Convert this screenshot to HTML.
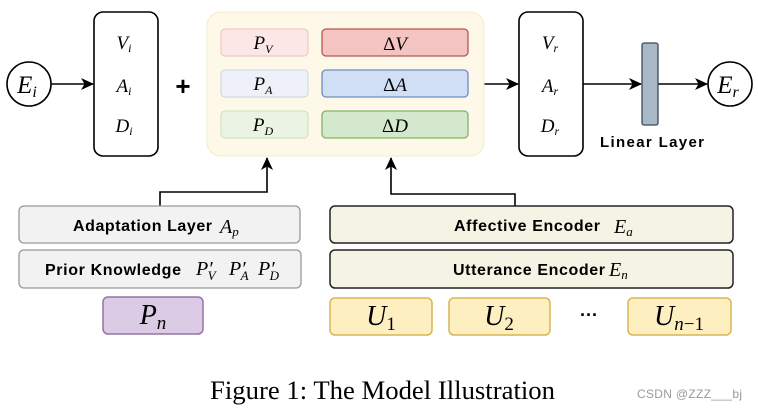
<!DOCTYPE html>
<html><head><meta charset="utf-8"><style>
html,body{margin:0;padding:0;background:#fff;}
svg{display:block;}
.m{font-family:"Liberation Serif",serif;font-style:italic;}
.b{font-family:"Liberation Sans",sans-serif;font-weight:bold;}
</style></head><body>
<svg width="758" height="410" viewBox="0 0 758 410" xmlns="http://www.w3.org/2000/svg">
<defs><marker id="ah" markerWidth="13" markerHeight="12" refX="12" refY="6" orient="auto" markerUnits="userSpaceOnUse"><path d="M0,0 L13,6 L0,12 L3.5,6 Z" fill="#000"/></marker></defs>
<g stroke="#000" stroke-width="1.6" fill="none">
<circle cx="29" cy="84" r="22"/>
<line x1="51" y1="84" x2="93" y2="84" marker-end="url(#ah)"/>
<rect x="94" y="12" width="64" height="144" rx="9"/>
<line x1="484" y1="84" x2="518" y2="84" marker-end="url(#ah)"/>
<rect x="519" y="12" width="64" height="144" rx="9"/>
<line x1="583" y1="84" x2="641" y2="84" marker-end="url(#ah)"/>
<line x1="658" y1="84" x2="707" y2="84" marker-end="url(#ah)"/>
<circle cx="730" cy="84" r="22"/>
<polyline points="160,206 160,192 267,192 267,158" marker-end="url(#ah)"/>
<polyline points="515,206 515,194 391,194 391,158" marker-end="url(#ah)"/>
</g>
<rect x="207" y="12" width="277" height="144" rx="14" fill="#fdf8e8" stroke="#f5ecc8" stroke-width="1"/>
<rect x="221" y="29" width="87" height="27" rx="4" fill="#fbe7e5" stroke="#ecc0bb"/>
<rect x="221" y="70" width="87" height="27" rx="4" fill="#eef2f8" stroke="#c8d4e6"/>
<rect x="221" y="111" width="87" height="27" rx="4" fill="#eaf3e4" stroke="#c8e0bc"/>
<rect x="322" y="29" width="146" height="27" rx="4" fill="#f4c4c3" stroke="#b85450" stroke-width="1.3"/>
<rect x="322" y="70" width="146" height="27" rx="4" fill="#d0def6" stroke="#6c8ebf" stroke-width="1.3"/>
<rect x="322" y="111" width="146" height="27" rx="4" fill="#d3e8cc" stroke="#82b366" stroke-width="1.3"/>
<rect x="642" y="43" width="16" height="82" rx="2" fill="#a9b8c6" stroke="#3a4a5a" stroke-width="1.3"/>
<g class="m" font-size="25" text-anchor="middle">
<text x="27" y="93">E<tspan font-size="16" dy="4">i</tspan></text>
<text x="728" y="93">E<tspan font-size="16" dy="4">r</tspan></text>
</g>
<g class="m" font-size="19" text-anchor="middle">
<text x="124" y="49">V<tspan font-size="12" dy="3">i</tspan></text>
<text x="124" y="92">A<tspan font-size="12" dy="3">i</tspan></text>
<text x="124" y="132">D<tspan font-size="12" dy="3">i</tspan></text>
<text x="550" y="49">V<tspan font-size="12" dy="3">r</tspan></text>
<text x="550" y="92">A<tspan font-size="12" dy="3">r</tspan></text>
<text x="550" y="132">D<tspan font-size="12" dy="3">r</tspan></text>
<text x="263" y="49">P<tspan font-size="12" dy="4">V</tspan></text>
<text x="263" y="90">P<tspan font-size="12" dy="4">A</tspan></text>
<text x="263" y="131">P<tspan font-size="12" dy="4">D</tspan></text>
<text x="395" y="50"><tspan font-style="normal">Δ</tspan>V</text>
<text x="395" y="91"><tspan font-style="normal">Δ</tspan>A</text>
<text x="395" y="132"><tspan font-style="normal">Δ</tspan>D</text>
</g>
<text x="183" y="95" class="b" font-size="26" text-anchor="middle">+</text>
<text x="652" y="147" class="b" font-size="15" text-anchor="middle" textLength="104">Linear Layer</text>
<rect x="19" y="206" width="281" height="37" rx="5" fill="#f2f2f2" stroke="#999" stroke-width="1.3"/>
<rect x="19" y="250" width="282" height="38" rx="5" fill="#f2f2f2" stroke="#999" stroke-width="1.3"/>
<rect x="330" y="206" width="403" height="37" rx="5" fill="#f5f3e3" stroke="#222" stroke-width="1.5"/>
<rect x="330" y="250" width="403" height="38" rx="5" fill="#f5f3e3" stroke="#222" stroke-width="1.5"/>
<rect x="103" y="297" width="100" height="37" rx="5" fill="#dccbe4" stroke="#9673a6" stroke-width="1.5"/>
<rect x="330" y="298" width="102" height="37" rx="5" fill="#fdefbf" stroke="#d6b656" stroke-width="1.5"/>
<rect x="449" y="298" width="101" height="37" rx="5" fill="#fdefbf" stroke="#d6b656" stroke-width="1.5"/>
<rect x="628" y="298" width="103" height="37" rx="5" fill="#fdefbf" stroke="#d6b656" stroke-width="1.5"/>
<g class="b" font-size="16">
<text x="73" y="231" textLength="139">Adaptation Layer</text>
<text x="45" y="275" textLength="136">Prior Knowledge</text>
<text x="454" y="231" textLength="146">Affective Encoder</text>
<text x="453" y="275" textLength="152">Utterance Encoder</text>
<text x="580" y="321" font-size="18">···</text>
</g>
<g class="m" font-size="20">
<text x="220" y="233">A<tspan font-size="13" dy="3">p</tspan></text>
<text x="196" y="275">P′<tspan font-size="13" dy="5" dx="-5">V</tspan></text>
<text x="229" y="275">P′<tspan font-size="13" dy="5" dx="-5">A</tspan></text>
<text x="258" y="275">P′<tspan font-size="13" dy="5" dx="-5">D</tspan></text>
<text x="614" y="233">E<tspan font-size="13" dy="3">a</tspan></text>
<text x="609" y="276">E<tspan font-size="13" dy="3">n</tspan></text>
</g>
<g class="m" font-size="28" text-anchor="middle">
<text x="153" y="324">P<tspan font-size="19" dy="5">n</tspan></text>
<text x="381" y="325">U<tspan font-size="19" dy="5" font-style="normal">1</tspan></text>
<text x="499" y="325">U<tspan font-size="19" dy="5" font-style="normal">2</tspan></text>
<text x="679" y="325">U<tspan font-size="19" dy="5">n<tspan font-style="normal">−1</tspan></tspan></text>
</g>
<text x="210" y="399" font-family="Liberation Serif,serif" font-size="26" textLength="345" lengthAdjust="spacingAndGlyphs">Figure 1: The Model Illustration</text>
<text x="637" y="398" font-family="Liberation Sans,sans-serif" font-size="12" fill="#999" textLength="105">CSDN @ZZZ___bj</text>
</svg>
</body></html>
